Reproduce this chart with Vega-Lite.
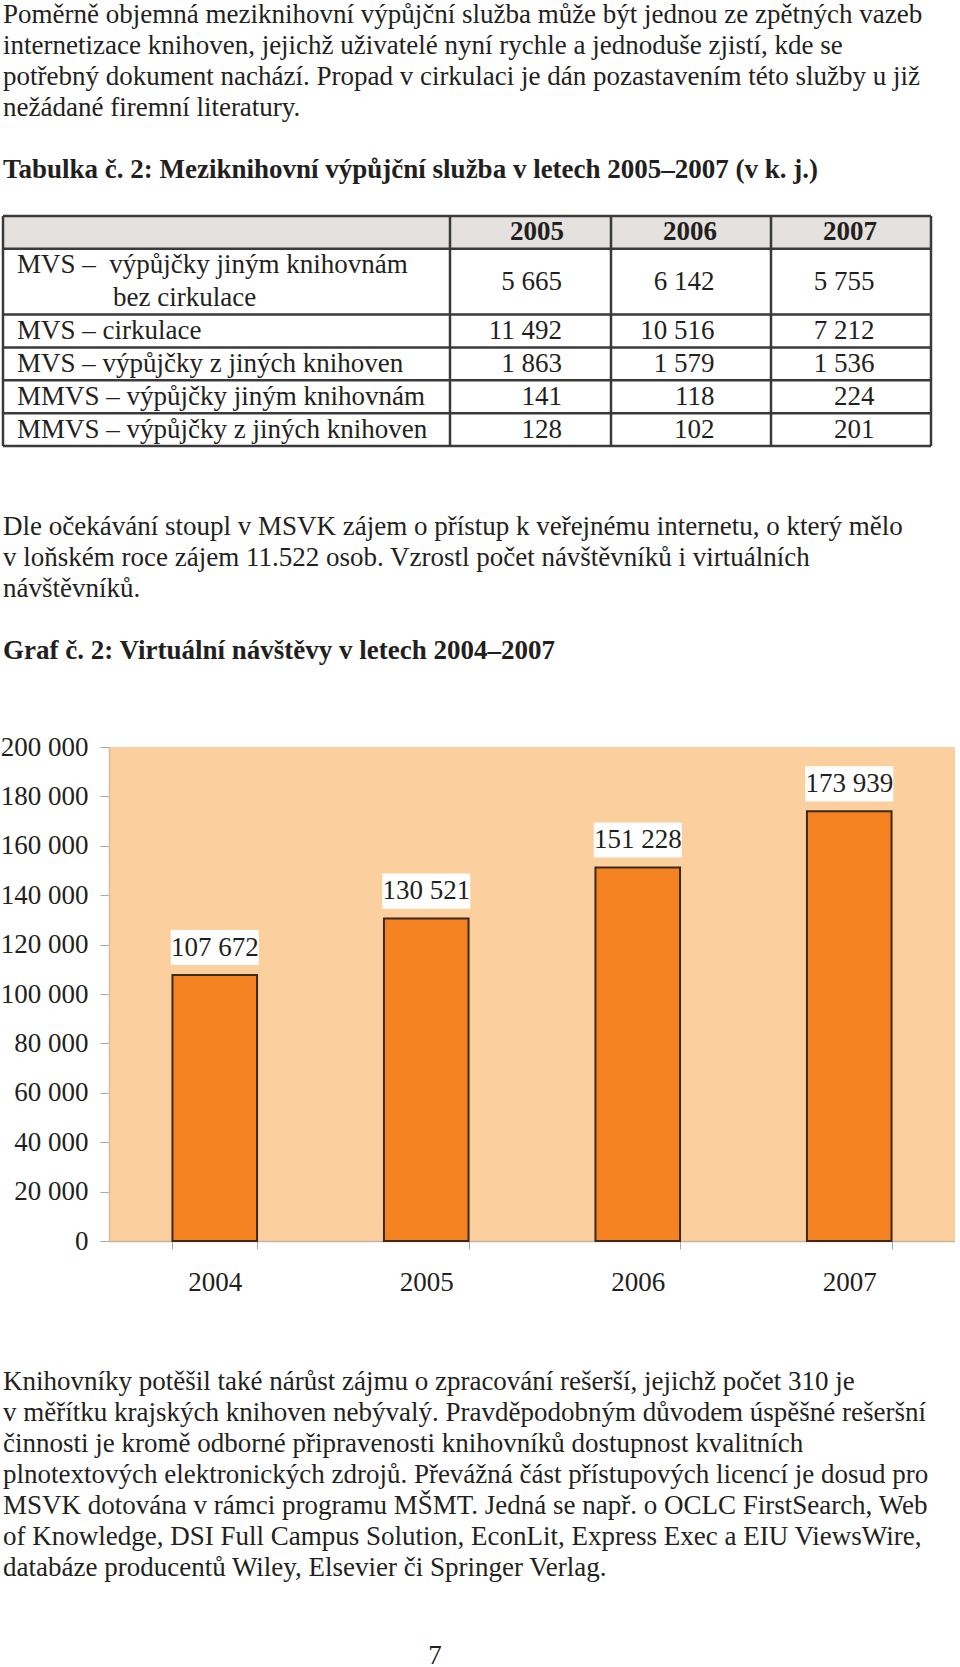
{
  "$schema": "https://vega.github.io/schema/vega-lite/v6.json",
  "padding": 0,
  "autosize": {"type": "pad"},
  "background": "#FFFFFF",
  "spacing": 0,
  "config": {
    "locale": {"number": {"decimal": ",", "thousands": " ", "grouping": [3], "currency": ["", " Kč"]}},
    "view": {"stroke": null},
    "font": "Liberation Serif"
  },
  "resolve": {"scale": {"x": "independent", "y": "independent"}},
  "datasets": {
    "lines": [
      {"block": "p1", "role": "body", "line": 1, "text": "Poměrně objemná meziknihovní výpůjční služba může být jednou ze zpětných vazeb"},
      {"block": "p1", "role": "body", "line": 2, "text": "internetizace knihoven, jejichž uživatelé nyní rychle a jednoduše zjistí, kde se"},
      {"block": "p1", "role": "body", "line": 3, "text": "potřebný dokument nachází. Propad v cirkulaci je dán pozastavením této služby u již"},
      {"block": "p1", "role": "body", "line": 4, "text": "nežádané firemní literatury."},
      {"block": "p1", "role": "caption", "line": 6, "text": "Tabulka č. 2: Meziknihovní výpůjční služba v letech 2005–2007 (v k. j.)"},
      {"block": "p3", "role": "body", "line": 1, "text": "Dle očekávání stoupl v MSVK zájem o přístup k veřejnému internetu, o který mělo"},
      {"block": "p3", "role": "body", "line": 2, "text": "v loňském roce zájem 11.522 osob. Vzrostl počet návštěvníků i virtuálních"},
      {"block": "p3", "role": "body", "line": 3, "text": "návštěvníků."},
      {"block": "p3", "role": "caption", "line": 5, "text": "Graf č. 2: Virtuální návštěvy v letech 2004–2007"},
      {"block": "p5", "role": "body", "line": 1, "text": "Knihovníky potěšil také nárůst zájmu o zpracování rešerší, jejichž počet 310 je"},
      {"block": "p5", "role": "body", "line": 2, "text": "v měřítku krajských knihoven nebývalý. Pravděpodobným důvodem úspěšné rešeršní"},
      {"block": "p5", "role": "body", "line": 3, "text": "činnosti je kromě odborné připravenosti knihovníků dostupnost kvalitních"},
      {"block": "p5", "role": "body", "line": 4, "text": "plnotextových elektronických zdrojů. Převážná část přístupových licencí je dosud pro"},
      {"block": "p5", "role": "body", "line": 5, "text": "MSVK dotována v rámci programu MŠMT. Jedná se např. o OCLC FirstSearch, Web"},
      {"block": "p5", "role": "body", "line": 6, "text": "of Knowledge, DSI Full Campus Solution, EconLit, Express Exec a EIU ViewsWire,"},
      {"block": "p5", "role": "body", "line": 7, "text": "databáze producentů Wiley, Elsevier či Springer Verlag."},
      {"block": "p5", "role": "page", "line": 10, "text": "7"}
    ],
    "mvsLabels": [
      {"slot": "a", "label": "MVS – \u00a0výpůjčky jiným knihovnám", "cont": false},
      {"slot": "b", "label": "bez cirkulace", "cont": true},
      {"slot": "c", "label": "MVS – cirkulace", "cont": false},
      {"slot": "d", "label": "MVS – výpůjčky z jiných knihoven", "cont": false},
      {"slot": "e", "label": "MMVS – výpůjčky jiným knihovnám", "cont": false},
      {"slot": "f", "label": "MMVS – výpůjčky z jiných knihoven", "cont": false}
    ],
    "mvs": [
      {"slot": "a", "item": "MVS – výpůjčky jiným knihovnám bez cirkulace", "year": 2005, "value": 5665},
      {"slot": "a", "item": "MVS – výpůjčky jiným knihovnám bez cirkulace", "year": 2006, "value": 6142},
      {"slot": "a", "item": "MVS – výpůjčky jiným knihovnám bez cirkulace", "year": 2007, "value": 5755},
      {"slot": "c", "item": "MVS – cirkulace", "year": 2005, "value": 11492},
      {"slot": "c", "item": "MVS – cirkulace", "year": 2006, "value": 10516},
      {"slot": "c", "item": "MVS – cirkulace", "year": 2007, "value": 7212},
      {"slot": "d", "item": "MVS – výpůjčky z jiných knihoven", "year": 2005, "value": 1863},
      {"slot": "d", "item": "MVS – výpůjčky z jiných knihoven", "year": 2006, "value": 1579},
      {"slot": "d", "item": "MVS – výpůjčky z jiných knihoven", "year": 2007, "value": 1536},
      {"slot": "e", "item": "MMVS – výpůjčky jiným knihovnám", "year": 2005, "value": 141},
      {"slot": "e", "item": "MMVS – výpůjčky jiným knihovnám", "year": 2006, "value": 118},
      {"slot": "e", "item": "MMVS – výpůjčky jiným knihovnám", "year": 2007, "value": 224},
      {"slot": "f", "item": "MMVS – výpůjčky z jiných knihoven", "year": 2005, "value": 128},
      {"slot": "f", "item": "MMVS – výpůjčky z jiných knihoven", "year": 2006, "value": 102},
      {"slot": "f", "item": "MMVS – výpůjčky z jiných knihoven", "year": 2007, "value": 201}
    ],
    "visits": [
      {"year": "2004", "visits": 107672},
      {"year": "2005", "visits": 130521},
      {"year": "2006", "visits": 151228},
      {"year": "2007", "visits": 173939}
    ]
  },
  "vconcat": [
    {
      "width": 846,
      "height": 211,
      "data": {"name": "lines"},
      "transform": [{"filter": "datum.block === 'p1'"}],
      "encoding": {
        "y": {"field": "line", "type": "quantitative", "scale": {"domain": [0, 6.8065], "reverse": true, "nice": false, "zero": false}, "axis": null},
        "x": {"value": 0},
        "text": {"field": "text", "type": "nominal"}
      },
      "layer": [
        {"transform": [{"filter": "datum.role === 'body'"}], "mark": {"type": "text", "align": "left", "baseline": "alphabetic", "dx": -106, "dy": -11, "font": "Liberation Serif", "fontSize": 27, "fill": "#231F20"}},
        {"transform": [{"filter": "datum.role === 'caption'"}], "mark": {"type": "text", "align": "left", "baseline": "alphabetic", "dx": -106, "dy": -11, "font": "Liberation Serif", "fontSize": 27, "fontWeight": "bold", "fill": "#231F20"}}
      ]
    },
    {
      "width": 822,
      "height": 230,
      "layer": [
        {
          "data": {"name": "mvs"},
          "transform": [{"filter": "datum.slot === 'a' && datum.year === 2005"}],
          "mark": {"type": "rect", "fill": "#E4E1DE"},
          "encoding": {
            "x": {"datum": 2004, "type": "quantitative", "scale": {"domain": [2004, 2005, 2006, 2007, 2008], "range": [-106, 341, 502, 662, 822], "nice": false, "zero": false}, "axis": null},
            "x2": {"datum": 2008},
            "y": {"datum": "h", "type": "nominal", "scale": {"domain": ["h", "a", "b", "c", "d", "e", "f"], "paddingInner": 0, "paddingOuter": 0}, "axis": null}
          }
        },
        {
          "data": {"name": "mvsLabels"},
          "transform": [{"filter": "!datum.cont"}],
          "mark": {"type": "rule", "stroke": "#3A3A3A", "strokeWidth": 2.5},
          "encoding": {"x": {"datum": 2004, "type": "quantitative"}, "x2": {"datum": 2008}, "y": {"field": "slot", "type": "nominal", "bandPosition": 0}}
        },
        {
          "data": {"name": "mvs"},
          "transform": [{"filter": "datum.slot === 'a' && datum.year === 2005"}],
          "mark": {"type": "rule", "stroke": "#3A3A3A", "strokeWidth": 2.5},
          "encoding": {"x": {"datum": 2004, "type": "quantitative"}, "x2": {"datum": 2008}, "y": {"datum": "h", "type": "nominal", "bandPosition": 0}}
        },
        {
          "data": {"name": "mvs"},
          "transform": [{"filter": "datum.slot === 'a' && datum.year === 2005"}],
          "mark": {"type": "rule", "stroke": "#3A3A3A", "strokeWidth": 2.5},
          "encoding": {"x": {"datum": 2004, "type": "quantitative"}, "x2": {"datum": 2008}, "y": {"datum": "f", "type": "nominal", "bandPosition": 1}}
        },
        {
          "data": {"name": "mvs"},
          "transform": [{"filter": "datum.slot === 'a'"}],
          "mark": {"type": "rule", "stroke": "#3A3A3A", "strokeWidth": 2.5},
          "encoding": {"x": {"field": "year", "type": "quantitative"}}
        },
        {
          "data": {"name": "mvs"},
          "transform": [{"filter": "datum.slot === 'a' && datum.year === 2005"}],
          "mark": {"type": "rule", "stroke": "#3A3A3A", "strokeWidth": 2.5},
          "encoding": {"x": {"datum": 2004, "type": "quantitative"}}
        },
        {
          "data": {"name": "mvs"},
          "transform": [{"filter": "datum.slot === 'a' && datum.year === 2005"}],
          "mark": {"type": "rule", "stroke": "#3A3A3A", "strokeWidth": 2.5},
          "encoding": {"x": {"datum": 2008, "type": "quantitative"}}
        },
        {
          "data": {"name": "mvs"},
          "transform": [{"filter": "datum.slot === 'a' && datum.year === 2005"}],
          "mark": {"type": "text", "align": "right", "baseline": "middle", "dx": 114, "font": "Liberation Serif", "fontSize": 27, "fontWeight": "bold", "fill": "#231F20"},
          "encoding": {"x": {"field": "year", "type": "quantitative"}, "y": {"datum": "h", "type": "nominal"}, "text": {"field": "year", "type": "nominal"}}
        },
        {
          "data": {"name": "mvs"},
          "transform": [{"filter": "datum.slot === 'a' && datum.year !== 2005"}],
          "mark": {"type": "text", "align": "right", "baseline": "middle", "dx": 106, "font": "Liberation Serif", "fontSize": 27, "fontWeight": "bold", "fill": "#231F20"},
          "encoding": {"x": {"field": "year", "type": "quantitative"}, "y": {"datum": "h", "type": "nominal"}, "text": {"field": "year", "type": "nominal"}}
        },
        {
          "data": {"name": "mvsLabels"},
          "transform": [{"filter": "!datum.cont"}],
          "mark": {"type": "text", "align": "left", "baseline": "middle", "dx": 14, "font": "Liberation Serif", "fontSize": 27, "fill": "#231F20"},
          "encoding": {"x": {"datum": 2004, "type": "quantitative"}, "y": {"field": "slot", "type": "nominal"}, "text": {"field": "label", "type": "nominal"}}
        },
        {
          "data": {"name": "mvsLabels"},
          "transform": [{"filter": "datum.cont"}],
          "mark": {"type": "text", "align": "left", "baseline": "middle", "dx": 110, "font": "Liberation Serif", "fontSize": 27, "fill": "#231F20"},
          "encoding": {"x": {"datum": 2004, "type": "quantitative"}, "y": {"field": "slot", "type": "nominal"}, "text": {"field": "label", "type": "nominal"}}
        },
        {
          "data": {"name": "mvs"},
          "transform": [{"filter": "datum.slot !== 'a' && datum.year === 2005"}],
          "mark": {"type": "text", "align": "right", "baseline": "middle", "dx": 112, "font": "Liberation Serif", "fontSize": 27, "fill": "#231F20"},
          "encoding": {"x": {"field": "year", "type": "quantitative"}, "y": {"field": "slot", "type": "nominal"}, "text": {"field": "value", "type": "quantitative", "format": ",d"}}
        },
        {
          "data": {"name": "mvs"},
          "transform": [{"filter": "datum.slot !== 'a' && datum.year !== 2005"}],
          "mark": {"type": "text", "align": "right", "baseline": "middle", "dx": 103.5, "font": "Liberation Serif", "fontSize": 27, "fill": "#231F20"},
          "encoding": {"x": {"field": "year", "type": "quantitative"}, "y": {"field": "slot", "type": "nominal"}, "text": {"field": "value", "type": "quantitative", "format": ",d"}}
        },
        {
          "data": {"name": "mvs"},
          "transform": [{"filter": "datum.slot === 'a' && datum.year === 2005"}],
          "mark": {"type": "text", "align": "right", "baseline": "middle", "dx": 112, "font": "Liberation Serif", "fontSize": 27, "fill": "#231F20"},
          "encoding": {"x": {"field": "year", "type": "quantitative"}, "y": {"field": "slot", "type": "nominal", "bandPosition": 1}, "text": {"field": "value", "type": "quantitative", "format": ",d"}}
        },
        {
          "data": {"name": "mvs"},
          "transform": [{"filter": "datum.slot === 'a' && datum.year !== 2005"}],
          "mark": {"type": "text", "align": "right", "baseline": "middle", "dx": 103.5, "font": "Liberation Serif", "fontSize": 27, "fill": "#231F20"},
          "encoding": {"x": {"field": "year", "type": "quantitative"}, "y": {"field": "slot", "type": "nominal", "bandPosition": 1}, "text": {"field": "value", "type": "quantitative", "format": ",d"}}
        }
      ]
    },
    {
      "width": 846,
      "height": 285,
      "data": {"name": "lines"},
      "transform": [{"filter": "datum.block === 'p3'"}],
      "encoding": {
        "y": {"field": "line", "type": "quantitative", "scale": {"domain": [0, 9.1935], "reverse": true, "nice": false, "zero": false}, "axis": null},
        "x": {"value": 0},
        "text": {"field": "text", "type": "nominal"}
      },
      "layer": [
        {"transform": [{"filter": "datum.role === 'body'"}], "mark": {"type": "text", "align": "left", "baseline": "alphabetic", "dx": -106, "dy": 56, "font": "Liberation Serif", "fontSize": 27, "fill": "#231F20"}},
        {"transform": [{"filter": "datum.role === 'caption'"}], "mark": {"type": "text", "align": "left", "baseline": "alphabetic", "dx": -106, "dy": 56, "font": "Liberation Serif", "fontSize": 27, "fontWeight": "bold", "fill": "#231F20"}}
      ]
    },
    {
      "width": 846,
      "height": 494,
      "view": {"fill": "#FCCF9F", "stroke": null},
      "data": {"name": "visits"},
      "encoding": {
        "x": {
          "field": "year", "type": "nominal",
          "scale": {"paddingInner": 0.6, "paddingOuter": 0.3},
          "axis": {"title": null, "labelAngle": 0, "tickBand": "extent", "tickSize": 8, "tickColor": "#A8A8A8", "tickWidth": 1, "domainColor": "#C8B49E", "domainWidth": 1.5, "labelFont": "Liberation Serif", "labelFontSize": 27, "labelColor": "#231F20", "labelBaseline": "middle", "labelPadding": 33}
        },
        "y": {
          "field": "visits", "type": "quantitative",
          "scale": {"domain": [0, 200000], "nice": false},
          "axis": {"title": null, "grid": false, "values": [0, 20000, 40000, 60000, 80000, 100000, 120000, 140000, 160000, 180000, 200000], "tickSize": 9, "tickColor": "#A8A8A8", "tickWidth": 1, "domainColor": "#D8BC9C", "domainWidth": 1.5, "labelFont": "Liberation Serif", "labelFontSize": 27, "labelColor": "#231F20", "labelPadding": 12, "format": ",d"}
        }
      },
      "layer": [
        {"mark": {"type": "bar", "fill": "#F58220", "stroke": "#3B2A1C", "strokeWidth": 2}},
        {"mark": {"type": "point", "shape": "M-1,-1.023H1V-0.227H-1Z", "size": 7744, "filled": true, "color": "#FFFFFF", "opacity": 1, "strokeWidth": 0}},
        {"mark": {"type": "text", "baseline": "middle", "dy": -27.5, "font": "Liberation Serif", "fontSize": 27, "fill": "#231F20"}, "encoding": {"text": {"field": "visits", "type": "quantitative", "format": ",d"}}}
      ]
    },
    {
      "width": 652,
      "height": 370,
      "data": {"name": "lines"},
      "transform": [{"filter": "datum.block === 'p5'"}],
      "encoding": {
        "y": {"field": "line", "type": "quantitative", "scale": {"domain": [0, 11.935], "reverse": true, "nice": false, "zero": false}, "axis": null},
        "text": {"field": "text", "type": "nominal"}
      },
      "layer": [
        {"transform": [{"filter": "datum.role === 'body'"}], "mark": {"type": "text", "align": "left", "baseline": "alphabetic", "dx": -106, "dy": 64, "font": "Liberation Serif", "fontSize": 27, "fill": "#231F20"}, "encoding": {"x": {"value": 0}}},
        {"transform": [{"filter": "datum.role === 'page'"}], "mark": {"type": "text", "align": "center", "baseline": "alphabetic", "dy": 58.5, "font": "Liberation Serif", "fontSize": 27, "fill": "#231F20"}}
      ]
    }
  ]
}
